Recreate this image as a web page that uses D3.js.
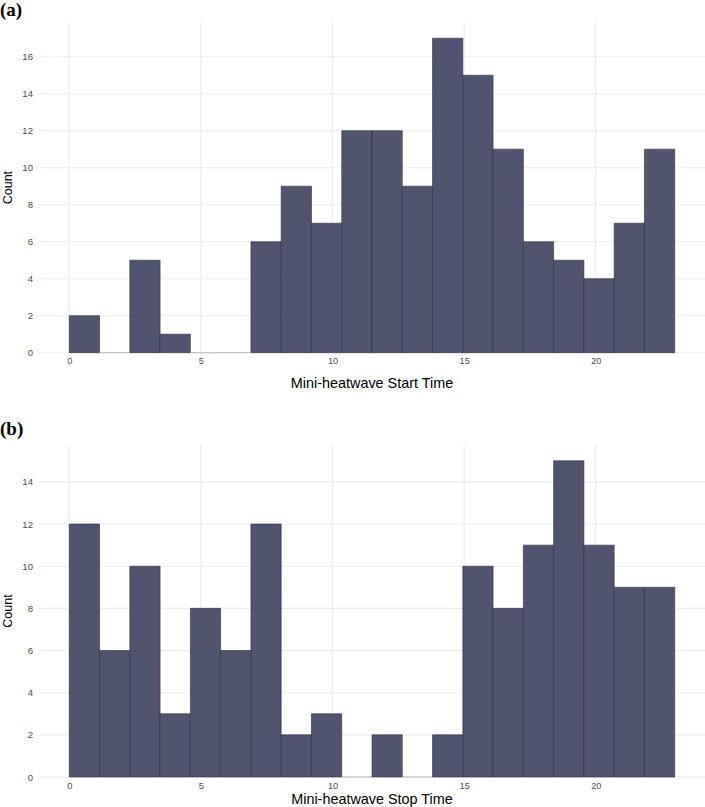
<!DOCTYPE html>
<html>
<head>
<meta charset="utf-8">
<script src="https://cdn.jsdelivr.net/npm/d3@7"></script>
<style>
  body { margin: 0; background: #fff; }
  svg { display: block; font-family: "Liberation Sans", Arial, sans-serif; }
</style>
</head>
<body>
<div id="chart"></div>
<script>
// 20 bins of width 1.15 covering 0..23 hours
const binWidth = 1.15;
const binCount = 20;
const startCounts = [2, 0, 5, 1, 0, 0, 6, 9, 7, 12, 12, 9, 17, 15, 11, 6, 5, 4, 7, 11];
const stopCounts = [12, 6, 10, 3, 8, 6, 12, 2, 3, 0, 2, 0, 2, 10, 8, 11, 15, 11, 9, 9];
const xTicks = [0, 5, 10, 15, 20];
const startYTicks = [0, 2, 4, 6, 8, 10, 12, 14, 16];
const stopYTicks = [0, 2, 4, 6, 8, 10, 12, 14];

const width = 705;
const height = 807;

const svg = d3
  .select("#chart")
  .append("svg")
  .attr("width", width)
  .attr("height", height);

const panels = [
  { label: "(a)", labelY: 16, top: 22.5, bottom: 352.7, titleY: 383, counts: startCounts, yTicks: startYTicks, title: "Mini-heatwave Start Time" },
  { label: "(b)", labelY: 435, top: 445, bottom: 777, titleY: 799, counts: stopCounts, yTicks: stopYTicks, title: "Mini-heatwave Stop Time" },
];

panels.forEach((p) => {
  const bins = p.counts.map((c, i) => ({ x0: i * binWidth, x1: (i + 1) * binWidth, count: c }));
  const xMax = binCount * binWidth;
  const yMax = d3.max(p.counts);

  const xScale = d3
    .scaleLinear()
    .domain([-xMax * 0.05, xMax * 1.05])
    .range([39, 705]);
  const yScale = d3
    .scaleLinear()
    .domain([0, yMax * 1.05])
    .range([p.bottom, p.top]);

  const g = svg.append("g");

  // grid
  g.selectAll(".hgrid")
    .data(p.yTicks)
    .join("line")
    .attr("x1", 39)
    .attr("x2", 705)
    .attr("y1", (d) => yScale(d))
    .attr("y2", (d) => yScale(d))
    .attr("stroke", "#ebebeb")
    .attr("stroke-width", 1.1);
  g.selectAll(".vgrid")
    .data(xTicks)
    .join("line")
    .attr("x1", (d) => xScale(d))
    .attr("x2", (d) => xScale(d))
    .attr("y1", p.top)
    .attr("y2", p.bottom)
    .attr("stroke", "#ebebeb")
    .attr("stroke-width", 1.1);

  // bars (paths so zero bins still show their outline)
  g.selectAll(".bar")
    .data(bins)
    .join("path")
    .attr("d", (d) => {
      const x0 = xScale(d.x0), x1 = xScale(d.x1);
      const y0 = yScale(0), y1 = yScale(d.count);
      return `M${x0},${y0}H${x1}V${y1}H${x0}Z`;
    })
    .attr("fill", "#50546f")
    .attr("stroke", (d) => (d.count === 0 ? "#b5b5b5" : "#2e2f3a"))
    .attr("stroke-width", 0.6);

  // axes labels
  const yAxis = g.append("g").attr("transform", "translate(33,0)").call(d3.axisLeft(yScale).tickValues(p.yTicks).tickSize(0).tickPadding(0));
  const xAxis = g.append("g").attr("transform", `translate(0,${p.bottom + 5})`).call(d3.axisBottom(xScale).tickValues(xTicks).tickSize(0).tickPadding(0));
  [yAxis, xAxis].forEach((a) => {
    a.select(".domain").remove();
    a.selectAll("text").attr("fill", "#4d4d4d");
  });
  yAxis.selectAll("text").style("font-size", "9.6px");
  xAxis.selectAll("text").style("font-size", "9.2px").attr("dy", "0.71em");

  g.append("text")
    .attr("x", (39 + 705) / 2)
    .attr("y", p.titleY)
    .attr("text-anchor", "middle")
    .attr("dy", "0.35em")
    .attr("fill", "#000")
    .style("font-size", "14.4px")
    .text(p.title);

  g.append("text")
    .attr("transform", `translate(8,${(p.top + p.bottom) / 2}) rotate(-90)`)
    .attr("text-anchor", "middle")
    .attr("dy", "0.35em")
    .attr("fill", "#000")
    .style("font-size", "12.5px")
    .text("Count");

  g.append("text")
    .attr("x", 0)
    .attr("y", p.labelY)
    .attr("fill", "#000")
    .style("font-family", "'Liberation Serif', 'DejaVu Serif', serif")
    .style("font-weight", "bold")
    .style("font-size", "19px")
    .text(p.label);
});
</script>
</body>
</html>
